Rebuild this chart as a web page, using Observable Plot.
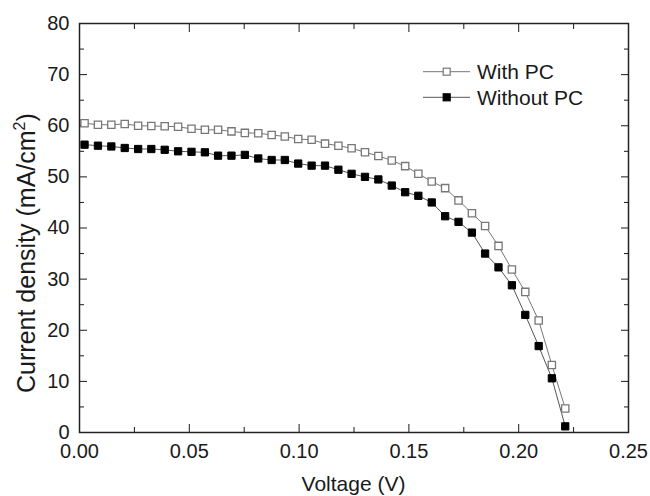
<!DOCTYPE html>
<html><head><meta charset="utf-8">
<script src="https://cdn.jsdelivr.net/npm/d3@7"></script>
<script src="https://cdn.jsdelivr.net/npm/@observablehq/plot@0.6"></script>
<style>
body{margin:0;background:#fff;font-family:"Liberation Sans",Arial,sans-serif;}
#chart{position:relative;width:650px;height:496px;}
#legend{position:absolute;left:0;top:0;}
</style></head><body><div id="chart"></div>
<script>
const voltage = [0.0023,0.0084,0.0145,0.0206,0.0267,0.0327,0.0388,0.0449,0.0510,0.0571,0.0631,0.0692,0.0753,0.0814,0.0875,0.0935,0.0996,0.1057,0.1118,0.1179,0.1239,0.1300,0.1361,0.1422,0.1483,0.1543,0.1604,0.1665,0.1726,0.1787,0.1847,0.1908,0.1969,0.2030,0.2091,0.2151,0.2212];
const withPC = [60.5,60.2,60.2,60.35,60.0,59.95,59.9,59.8,59.4,59.2,59.2,58.9,58.6,58.55,58.2,57.9,57.4,57.25,56.5,56.1,55.6,54.8,54.1,53.2,52.1,50.6,49.1,47.8,45.4,42.9,40.4,36.5,31.9,27.5,21.9,13.2,4.7];
const withoutPC = [56.3,56.1,55.95,55.65,55.45,55.45,55.3,55.0,54.9,54.8,54.15,54.15,54.3,53.6,53.3,53.3,52.6,52.2,52.2,51.4,50.6,50.0,49.5,48.3,47.0,46.3,45.0,42.3,41.2,39.1,35.0,32.3,28.8,23.0,16.9,10.6,1.2];
const seriesNames = ["With PC","Without PC"];
const xMajor = [0,0.05,0.10,0.15,0.20,0.25];
const xMinor = [0.025,0.075,0.125,0.175,0.225];
const yMajor = [0,10,20,30,40,50,60,70,80];
const yMinor = [5,15,25,35,45,55,65,75];
const xTitle = "Voltage (V)";
const yTitleParts = ["Current density (mA/cm", "2", ")"];

const withData = voltage.map((v,i)=>({v, j: withPC[i], s: seriesNames[0]}));
const withoutData = voltage.map((v,i)=>({v, j: withoutPC[i], s: seriesNames[1]}));
const blank = () => "";

const plot = Plot.plot({
  width: 650, height: 496,
  marginLeft: 79, marginRight: 22, marginTop: 23, marginBottom: 64,
  style: {fontFamily: "Liberation Sans, Arial, sans-serif", fontSize: "20px", color: "#1a1a1a", background: "#fff"},
  x: {domain: [0, 0.25]},
  y: {domain: [0, 80]},
  marks: [
    Plot.axisX(xMajor, {anchor: "bottom", tickSize: -8, tickPadding: 19, tickFormat: d3.format(".2f"), label: null, fontSize: 20}),
    Plot.axisX(xMinor, {anchor: "bottom", tickSize: -5, tickFormat: blank, label: null}),
    Plot.axisX(xMajor, {anchor: "top", tickSize: -8, tickFormat: blank, label: null}),
    Plot.axisX(xMinor, {anchor: "top", tickSize: -5, tickFormat: blank, label: null}),
    Plot.axisY(yMajor, {anchor: "left", tickSize: -8, tickPadding: 18, label: null, fontSize: 20}),
    Plot.axisY(yMinor, {anchor: "left", tickSize: -5, tickFormat: blank, label: null}),
    Plot.axisY(yMajor, {anchor: "right", tickSize: -8, tickFormat: blank, label: null}),
    Plot.axisY(yMinor, {anchor: "right", tickSize: -5, tickFormat: blank, label: null}),
    Plot.line(withData, {x: "v", y: "j", stroke: "#777", strokeWidth: 1}),
    Plot.line(withoutData, {x: "v", y: "j", stroke: "#555", strokeWidth: 1}),
    Plot.dot(withData, {x: "v", y: "j", symbol: "square", r: 4.1, fill: "white", stroke: "#777", strokeWidth: 1.3}),
    Plot.dot(withoutData, {x: "v", y: "j", symbol: "square", r: 4.1, fill: "black", stroke: "black", strokeWidth: 1}),
    Plot.frame({stroke: "#222", strokeWidth: 1.5})
  ]
});

const svg = d3.select(plot);
const xs = plot.scale("x"), ys = plot.scale("y");
const xMid = (xs.range[0] + xs.range[1]) / 2;
svg.append("text").attr("x", xMid).attr("y", 491).attr("text-anchor", "middle")
  .attr("font-size", 21).attr("fill", "#1a1a1a").text(xTitle);
const yt = svg.append("text").attr("transform", `translate(35,${ys.apply(35)}) rotate(-90)`)
  .attr("text-anchor", "middle").attr("font-size", 25).attr("fill", "#1a1a1a");
yt.append("tspan").text(yTitleParts[0]);
yt.append("tspan").attr("dy", -10).attr("font-size", 16).text(yTitleParts[1]);
yt.append("tspan").attr("dy", 10).text(yTitleParts[2]);

document.getElementById("chart").appendChild(plot);

// legend overlay
const lg = d3.select("#chart").append("svg").attr("id", "legend").attr("width", 650).attr("height", 496);
const rows = [
  {name: seriesNames[0], y: 71.7, fill: "white", stroke: "#777", line: "#777"},
  {name: seriesNames[1], y: 97.3, fill: "black", stroke: "black", line: "#555"}
];
rows.forEach(r => {
  lg.append("line").attr("x1", 423).attr("x2", 470).attr("y1", r.y).attr("y2", r.y).attr("stroke", r.line).attr("stroke-width", 1);
  lg.append("rect").attr("x", 446.7 - 3.5).attr("y", r.y - 3.5).attr("width", 7).attr("height", 7)
    .attr("fill", r.fill).attr("stroke", r.stroke).attr("stroke-width", 1.2);
  lg.append("text").attr("x", 477).attr("y", r.y + 7.5).attr("font-size", 21)
    .attr("font-family", "Liberation Sans, Arial, sans-serif").attr("fill", "#1a1a1a").text(r.name);
});
</script></body></html>
